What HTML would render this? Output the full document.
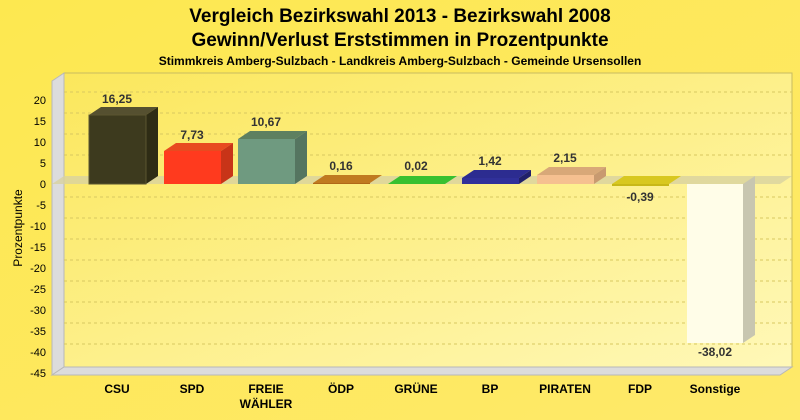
<!DOCTYPE html><html><head><meta charset="utf-8"><style>body{margin:0;background:#fde850}svg{display:block}text{font-family:"Liberation Sans",sans-serif}</style></head><body>
<svg width="800" height="420" viewBox="0 0 800 420">
<defs><linearGradient id="bg" x1="0" y1="0" x2="1" y2="1"><stop offset="0" stop-color="#fde850"/><stop offset="1" stop-color="#fee96a"/></linearGradient>
<linearGradient id="pw" x1="0" y1="0" x2="1" y2="1"><stop offset="0" stop-color="#fbe75c"/><stop offset="1" stop-color="#fff8b8"/></linearGradient></defs>
<rect width="800" height="420" fill="url(#bg)"/>
<text x="400" y="22" font-size="19" font-weight="bold" text-anchor="middle">Vergleich Bezirkswahl 2013 - Bezirkswahl 2008</text>
<text x="400" y="46" font-size="19" font-weight="bold" text-anchor="middle">Gewinn/Verlust Erststimmen in Prozentpunkte</text>
<text x="400" y="65" font-size="12" font-weight="bold" text-anchor="middle">Stimmkreis Amberg-Sulzbach - Landkreis Amberg-Sulzbach - Gemeinde Ursensollen</text>
<rect x="64" y="73" width="728" height="294" fill="url(#pw)" stroke="#c8bb60" stroke-width="1"/>
<polygon points="52,81 64,73 64,367 52,375" fill="#dcdcdc" stroke="#b8b8b8"/>
<polygon points="52,375 64,367 792,367 780,375" fill="#dcdcdc" stroke="#b8b8b8"/>
<g stroke="#d8c860" stroke-dasharray="3,3" stroke-width="1">
<line x1="64" y1="92" x2="792" y2="92"/><line x1="64" y1="113" x2="792" y2="113"/><line x1="64" y1="134" x2="792" y2="134"/><line x1="64" y1="155" x2="792" y2="155"/><line x1="64" y1="197" x2="792" y2="197"/><line x1="64" y1="218" x2="792" y2="218"/><line x1="64" y1="239" x2="792" y2="239"/><line x1="64" y1="260" x2="792" y2="260"/><line x1="64" y1="281" x2="792" y2="281"/><line x1="64" y1="302" x2="792" y2="302"/><line x1="64" y1="323" x2="792" y2="323"/><line x1="64" y1="344" x2="792" y2="344"/></g>
<polygon points="52,184 64,176 792,176 780,184" fill="#d8d2a0" opacity="0.8"/>
<g font-size="11" text-anchor="end">
<text x="46" y="104">20</text><text x="46" y="125">15</text><text x="46" y="146">10</text><text x="46" y="167">5</text><text x="46" y="188">0</text><text x="46" y="209">-5</text><text x="46" y="230">-10</text><text x="46" y="251">-15</text><text x="46" y="272">-20</text><text x="46" y="293">-25</text><text x="46" y="314">-30</text><text x="46" y="335">-35</text><text x="46" y="356">-40</text><text x="46" y="377">-45</text></g>
<text transform="translate(22,228) rotate(-90)" font-size="12" text-anchor="middle">Prozentpunkte</text>
<g stroke-width="1">
<!-- CSU -->
<polygon points="89,115 101,107 158,107 146,115" fill="#555030"/><polygon points="146,115 158,107 158,176 146,184" fill="#2e2c15"/><rect x="89" y="115" width="57" height="69" fill="#3d3a1e" stroke="#5a5530"/>
<!-- SPD -->
<polygon points="164,151 176,143 233,143 221,151" fill="#e84a20"/><polygon points="221,151 233,143 233,176 221,184" fill="#c83418"/><rect x="164" y="151" width="57" height="33" fill="#ff3a1e"/>
<!-- FREIE -->
<polygon points="238,139 250,131 307,131 295,139" fill="#5e8060"/><polygon points="295,139 307,131 307,176 295,184" fill="#557560"/><rect x="238" y="139" width="57" height="45" fill="#6f9a80"/>
<!-- ÖDP -->
<polygon points="313,183 325,175 382,175 370,183" fill="#c07a20"/><rect x="313" y="183" width="57" height="1" fill="#b06818"/>
<!-- GRÜNE -->
<polygon points="388,184 400,176 457,176 445,184" fill="#38c030"/>
<!-- BP -->
<polygon points="462,178 474,170 531,170 519,178" fill="#2c2c90"/><polygon points="519,178 531,170 531,176 519,184" fill="#20206a"/><rect x="462" y="178" width="57" height="6" fill="#30309a"/>
<!-- PIRATEN -->
<polygon points="537,175 549,167 606,167 594,175" fill="#d8a878"/><polygon points="594,175 606,167 606,176 594,184" fill="#c89a70"/><rect x="537" y="175" width="57" height="9" fill="#f5c090"/>
<!-- FDP -->
<polygon points="612,184 624,176 681,176 669,184" fill="#d8c820"/><rect x="612" y="184" width="57" height="2" fill="#c8b818"/>
<!-- Sonstige -->
<polygon points="743,184 755,176 755,335 743,343" fill="#c8c6b0"/><rect x="687" y="184" width="56" height="159" fill="#fffde8"/>
</g>
<g font-size="12" font-weight="bold" fill="#333" text-anchor="middle">
<text x="117" y="103">16,25</text><text x="192" y="139">7,73</text><text x="266" y="126">10,67</text><text x="341" y="170">0,16</text><text x="416" y="170">0,02</text><text x="490" y="165">1,42</text><text x="565" y="162">2,15</text><text x="640" y="201">-0,39</text><text x="715" y="356">-38,02</text></g>
<g font-size="12" font-weight="bold" text-anchor="middle">
<text x="117" y="393">CSU</text><text x="192" y="393">SPD</text><text x="266" y="393">FREIE</text><text x="266" y="408">WÄHLER</text><text x="341" y="393">ÖDP</text><text x="416" y="393">GRÜNE</text><text x="490" y="393">BP</text><text x="565" y="393">PIRATEN</text><text x="640" y="393">FDP</text><text x="715" y="393">Sonstige</text></g>
</svg></body></html>
